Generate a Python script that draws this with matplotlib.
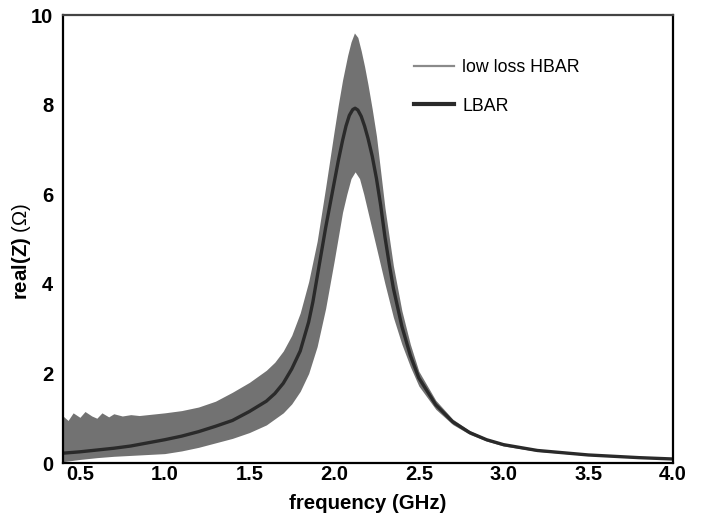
import matplotlib
matplotlib.use("Agg")
import matplotlib.pyplot as plt
import numpy as np
from matplotlib.lines import Line2D

plt.rcParams['font.family'] = ['Liberation Sans', 'DejaVu Sans']
plt.rcParams['mathtext.fontset'] = 'custom'
plt.rcParams['mathtext.bf'] = 'Liberation Sans:bold'
plt.rcParams['mathtext.rm'] = 'Liberation Sans'

# LBAR curve
f_lbar = [0.40, 0.50, 0.60, 0.70, 0.80, 0.90, 1.00, 1.10, 1.20, 1.30, 1.40, 1.50,
          1.60, 1.65, 1.70, 1.75, 1.80, 1.85, 1.875, 1.90, 1.925, 1.95, 1.975,
          2.00, 2.025, 2.05, 2.07, 2.09, 2.11, 2.124, 2.14, 2.16, 2.18, 2.20,
          2.225, 2.25, 2.275, 2.30, 2.325, 2.35, 2.40, 2.45, 2.50, 2.60, 2.70,
          2.80, 2.90, 3.00, 3.20, 3.50, 3.80, 4.00]
z_lbar = [0.22, 0.25, 0.29, 0.33, 0.38, 0.45, 0.52, 0.60, 0.70, 0.82, 0.95, 1.15,
          1.38, 1.55, 1.78, 2.10, 2.50, 3.15, 3.60, 4.15, 4.70, 5.25, 5.75,
          6.25, 6.75, 7.20, 7.52, 7.76, 7.89, 7.92, 7.88, 7.74, 7.52, 7.25,
          6.85, 6.35, 5.75, 5.05, 4.45, 3.90, 3.05, 2.40, 1.90, 1.30, 0.92,
          0.68, 0.52, 0.41, 0.28, 0.18, 0.12, 0.09]

# low loss HBAR: envelope of the dense oscillation (max / min)
f_hbar_hi = [0.40, 0.43, 0.46, 0.50, 0.53, 0.57, 0.60, 0.63, 0.67, 0.70, 0.75,
             0.80, 0.85, 0.90, 1.00, 1.10, 1.20, 1.30, 1.40, 1.50, 1.60, 1.65,
             1.70, 1.75, 1.80, 1.85, 1.90, 1.95, 2.00, 2.025, 2.05, 2.08, 2.10,
             2.12, 2.14, 2.16, 2.18, 2.20, 2.225, 2.25, 2.30, 2.35, 2.40, 2.45,
             2.50, 2.60, 2.70, 2.80, 2.90, 3.00, 3.20, 3.50, 3.80, 4.00]
z_hbar_hi = [1.05, 0.95, 1.12, 1.02, 1.15, 1.05, 1.00, 1.12, 1.03, 1.10, 1.05,
             1.08, 1.06, 1.08, 1.12, 1.17, 1.25, 1.38, 1.58, 1.80, 2.07, 2.25,
             2.50, 2.85, 3.35, 4.05, 4.95, 6.15, 7.40, 8.00, 8.55, 9.10, 9.40,
             9.60, 9.50, 9.20, 8.85, 8.45, 7.90, 7.30, 5.70, 4.40, 3.40, 2.65,
             2.05, 1.40, 0.98, 0.72, 0.55, 0.44, 0.30, 0.19, 0.13, 0.10]
f_hbar_lo = [0.40, 0.50, 0.60, 0.70, 0.80, 0.90, 1.00, 1.10, 1.20, 1.30, 1.40,
             1.50, 1.60, 1.70, 1.75, 1.80, 1.85, 1.90, 1.95, 2.00, 2.05, 2.075,
             2.10, 2.124, 2.15, 2.175, 2.20, 2.25, 2.30, 2.35, 2.40, 2.45, 2.50,
             2.60, 2.70, 2.80, 2.90, 3.00, 3.20, 3.50, 3.80, 4.00]
z_hbar_lo = [0.03, 0.08, 0.12, 0.15, 0.17, 0.19, 0.21, 0.27, 0.35, 0.45, 0.55,
             0.68, 0.85, 1.12, 1.32, 1.60, 2.00, 2.60, 3.45, 4.50, 5.60, 6.00,
             6.35, 6.50, 6.35, 6.00, 5.60, 4.80, 4.00, 3.25, 2.65, 2.15, 1.72,
             1.20, 0.86, 0.64, 0.49, 0.38, 0.26, 0.17, 0.11, 0.08]

xticks = [0.5, 1.0, 1.5, 2.0, 2.5, 3.0, 3.5, 4.0]
yticks = [0, 2, 4, 6, 8, 10]

fig = plt.figure(figsize=(7.02, 5.17), dpi=100)
ax = fig.add_axes([0.0897, 0.1044, 0.869, 0.8665])

# envelope of HBAR on a common grid (one grid from both lists)
f_grid = np.union1d(f_hbar_hi, f_hbar_lo)
hi = np.interp(f_grid, f_hbar_hi, z_hbar_hi)
lo = np.interp(f_grid, f_hbar_lo, z_hbar_lo)
ax.fill_between(f_grid, lo, hi, color='#727272', linewidth=0)

ax.plot(f_lbar, z_lbar, color='#2a2a2a', lw=2.4, solid_capstyle='round')

ax.set_xlim(0.4, 4.0)
ax.set_ylim(0, 10)
ax.set_xticks(xticks)
ax.set_xticklabels([f'{t:.1f}' for t in xticks])
ax.set_yticks(yticks)
ax.tick_params(length=0, labelsize=14.5)
ax.tick_params(axis='x', pad=1.5)
ax.tick_params(axis='y', pad=7)
for lab in ax.get_xticklabels() + ax.get_yticklabels():
    lab.set_fontweight('bold')

for s in ax.spines.values():
    s.set_linewidth(1.6)
    s.set_color('black')
ax.spines['top'].set_color('#444444')

ax.set_xlabel('frequency (GHz)', fontsize=14.7, fontweight='bold', labelpad=7)
ax.set_ylabel(r'$\mathbf{real(Z)}$ (Ω)', fontsize=14.7)
ax.yaxis.set_label_coords(-0.049, 0.473)

handles = [Line2D([], [], color='#8a8a8a', lw=1.6),
           Line2D([], [], color='#2a2a2a', lw=3)]
ax.legend(handles, ['low loss HBAR', 'LBAR'], loc='upper left',
          bbox_to_anchor=(0.55, 0.937), frameon=False, fontsize=12.8,
          handlelength=2.2, handletextpad=0.5, labelspacing=1.2)

fig.savefig('out.png', dpi=100)
